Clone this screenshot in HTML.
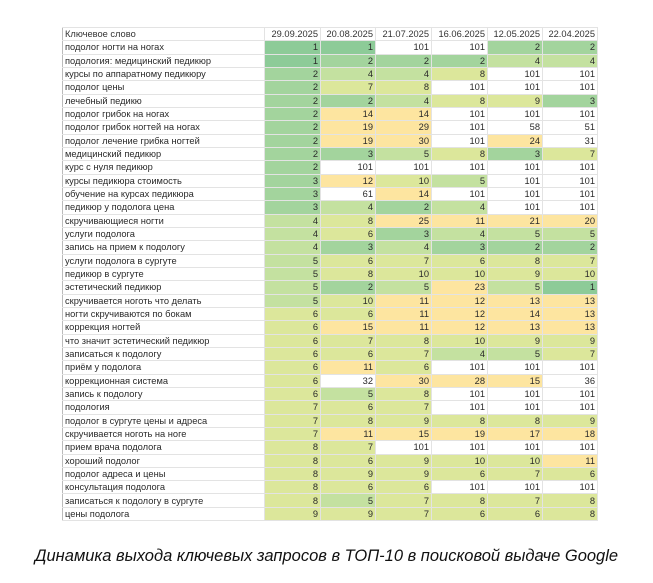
<!DOCTYPE html>
<html><head><meta charset="utf-8">
<style>
html,body{margin:0;padding:0;background:#fff;width:653px;height:583px;overflow:hidden;position:relative}
table{position:absolute;left:62px;top:27px;border-collapse:collapse;table-layout:fixed;font-family:"Liberation Sans",Arial,sans-serif;font-size:9.3px;color:#2a2a2a}
td{height:12.33px;padding:0 2px;line-height:12px;border:1px solid #e3e3e3;white-space:nowrap;overflow:hidden;text-align:right}
td:first-child{text-align:left;border-left:1px solid #bbb}
tr.h td{color:#333}
.a{background:#8dcb98}.b{background:#a3d49d}.c{background:#c4e1a0}.d{background:#dce79b}.e{background:#fde5a0}
.cap{position:absolute;left:0;width:653px;top:547px;text-align:center;font-family:"Liberation Sans",Arial,sans-serif;font-style:italic;font-size:16.5px;color:#111}
</style></head><body>
<table>
<colgroup><col style="width:202px"><col style="width:56px"><col style="width:55px"><col style="width:56px"><col style="width:56px"><col style="width:55px"><col style="width:55px"></colgroup>
<tr class="h"><td>Ключевое слово</td><td>29.09.2025</td><td>20.08.2025</td><td>21.07.2025</td><td>16.06.2025</td><td>12.05.2025</td><td>22.04.2025</td></tr>
<tr><td>подолог ногти на ногах</td><td class="a">1</td><td class="a">1</td><td>101</td><td>101</td><td class="b">2</td><td class="b">2</td></tr>
<tr><td>подология: медицинский педикюр</td><td class="a">1</td><td class="b">2</td><td class="b">2</td><td class="b">2</td><td class="c">4</td><td class="c">4</td></tr>
<tr><td>курсы по аппаратному педикюру</td><td class="b">2</td><td class="c">4</td><td class="c">4</td><td class="d">8</td><td>101</td><td>101</td></tr>
<tr><td>подолог цены</td><td class="b">2</td><td class="d">7</td><td class="d">8</td><td>101</td><td>101</td><td>101</td></tr>
<tr><td>лечебный педикю</td><td class="b">2</td><td class="b">2</td><td class="c">4</td><td class="d">8</td><td class="d">9</td><td class="b">3</td></tr>
<tr><td>подолог грибок на ногах</td><td class="b">2</td><td class="e">14</td><td class="e">14</td><td>101</td><td>101</td><td>101</td></tr>
<tr><td>подолог грибок ногтей на ногах</td><td class="b">2</td><td class="e">19</td><td class="e">29</td><td>101</td><td>58</td><td>51</td></tr>
<tr><td>подолог лечение грибка ногтей</td><td class="b">2</td><td class="e">19</td><td class="e">30</td><td>101</td><td class="e">24</td><td>31</td></tr>
<tr><td>медицинский педикюр</td><td class="b">2</td><td class="b">3</td><td class="c">5</td><td class="d">8</td><td class="b">3</td><td class="d">7</td></tr>
<tr><td>курс с нуля педикюр</td><td class="b">2</td><td>101</td><td>101</td><td>101</td><td>101</td><td>101</td></tr>
<tr><td>курсы педикюра стоимость</td><td class="b">3</td><td class="e">12</td><td class="d">10</td><td class="c">5</td><td>101</td><td>101</td></tr>
<tr><td>обучение на курсах педикюра</td><td class="b">3</td><td>61</td><td class="e">14</td><td>101</td><td>101</td><td>101</td></tr>
<tr><td>педикюр у подолога цена</td><td class="b">3</td><td class="c">4</td><td class="b">2</td><td class="c">4</td><td>101</td><td>101</td></tr>
<tr><td>скручивающиеся ногти</td><td class="c">4</td><td class="d">8</td><td class="e">25</td><td class="e">11</td><td class="e">21</td><td class="e">20</td></tr>
<tr><td>услуги подолога</td><td class="c">4</td><td class="d">6</td><td class="b">3</td><td class="c">4</td><td class="c">5</td><td class="c">5</td></tr>
<tr><td>запись на прием к подологу</td><td class="c">4</td><td class="b">3</td><td class="c">4</td><td class="b">3</td><td class="b">2</td><td class="b">2</td></tr>
<tr><td>услуги подолога в сургуте</td><td class="c">5</td><td class="d">6</td><td class="d">7</td><td class="d">6</td><td class="d">8</td><td class="d">7</td></tr>
<tr><td>педикюр в сургуте</td><td class="c">5</td><td class="d">8</td><td class="d">10</td><td class="d">10</td><td class="d">9</td><td class="d">10</td></tr>
<tr><td>эстетический педикюр</td><td class="c">5</td><td class="b">2</td><td class="c">5</td><td class="e">23</td><td class="c">5</td><td class="a">1</td></tr>
<tr><td>скручивается ноготь что делать</td><td class="c">5</td><td class="d">10</td><td class="e">11</td><td class="e">12</td><td class="e">13</td><td class="e">13</td></tr>
<tr><td>ногти скручиваются по бокам</td><td class="d">6</td><td class="d">6</td><td class="e">11</td><td class="e">12</td><td class="e">14</td><td class="e">13</td></tr>
<tr><td>коррекция ногтей</td><td class="d">6</td><td class="e">15</td><td class="e">11</td><td class="e">12</td><td class="e">13</td><td class="e">13</td></tr>
<tr><td>что значит эстетический педикюр</td><td class="d">6</td><td class="d">7</td><td class="d">8</td><td class="d">10</td><td class="d">9</td><td class="d">9</td></tr>
<tr><td>записаться к подологу</td><td class="d">6</td><td class="d">6</td><td class="d">7</td><td class="c">4</td><td class="c">5</td><td class="d">7</td></tr>
<tr><td>приём у подолога</td><td class="d">6</td><td class="e">11</td><td class="d">6</td><td>101</td><td>101</td><td>101</td></tr>
<tr><td>коррекционная система</td><td class="d">6</td><td>32</td><td class="e">30</td><td class="e">28</td><td class="e">15</td><td>36</td></tr>
<tr><td>запись к подологу</td><td class="d">6</td><td class="c">5</td><td class="d">8</td><td>101</td><td>101</td><td>101</td></tr>
<tr><td>подология</td><td class="d">7</td><td class="d">6</td><td class="d">7</td><td>101</td><td>101</td><td>101</td></tr>
<tr><td>подолог в сургуте цены и адреса</td><td class="d">7</td><td class="d">8</td><td class="d">9</td><td class="d">8</td><td class="d">8</td><td class="d">9</td></tr>
<tr><td>скручивается ноготь на ноге</td><td class="d">7</td><td class="e">11</td><td class="e">15</td><td class="e">19</td><td class="e">17</td><td class="e">18</td></tr>
<tr><td>прием врача подолога</td><td class="d">8</td><td class="d">7</td><td>101</td><td>101</td><td>101</td><td>101</td></tr>
<tr><td>хороший подолог</td><td class="d">8</td><td class="d">6</td><td class="d">9</td><td class="d">10</td><td class="d">10</td><td class="e">11</td></tr>
<tr><td>подолог адреса и цены</td><td class="d">8</td><td class="d">9</td><td class="d">9</td><td class="d">6</td><td class="d">7</td><td class="d">6</td></tr>
<tr><td>консультация подолога</td><td class="d">8</td><td class="d">6</td><td class="d">6</td><td>101</td><td>101</td><td>101</td></tr>
<tr><td>записаться к подологу в сургуте</td><td class="d">8</td><td class="c">5</td><td class="d">7</td><td class="d">8</td><td class="d">7</td><td class="d">8</td></tr>
<tr><td>цены подолога</td><td class="d">9</td><td class="d">9</td><td class="d">7</td><td class="d">6</td><td class="d">6</td><td class="d">8</td></tr>
</table>
<div class="cap">Динамика выхода ключевых запросов в ТОП-10 в поисковой выдаче Google</div>
</body></html>
